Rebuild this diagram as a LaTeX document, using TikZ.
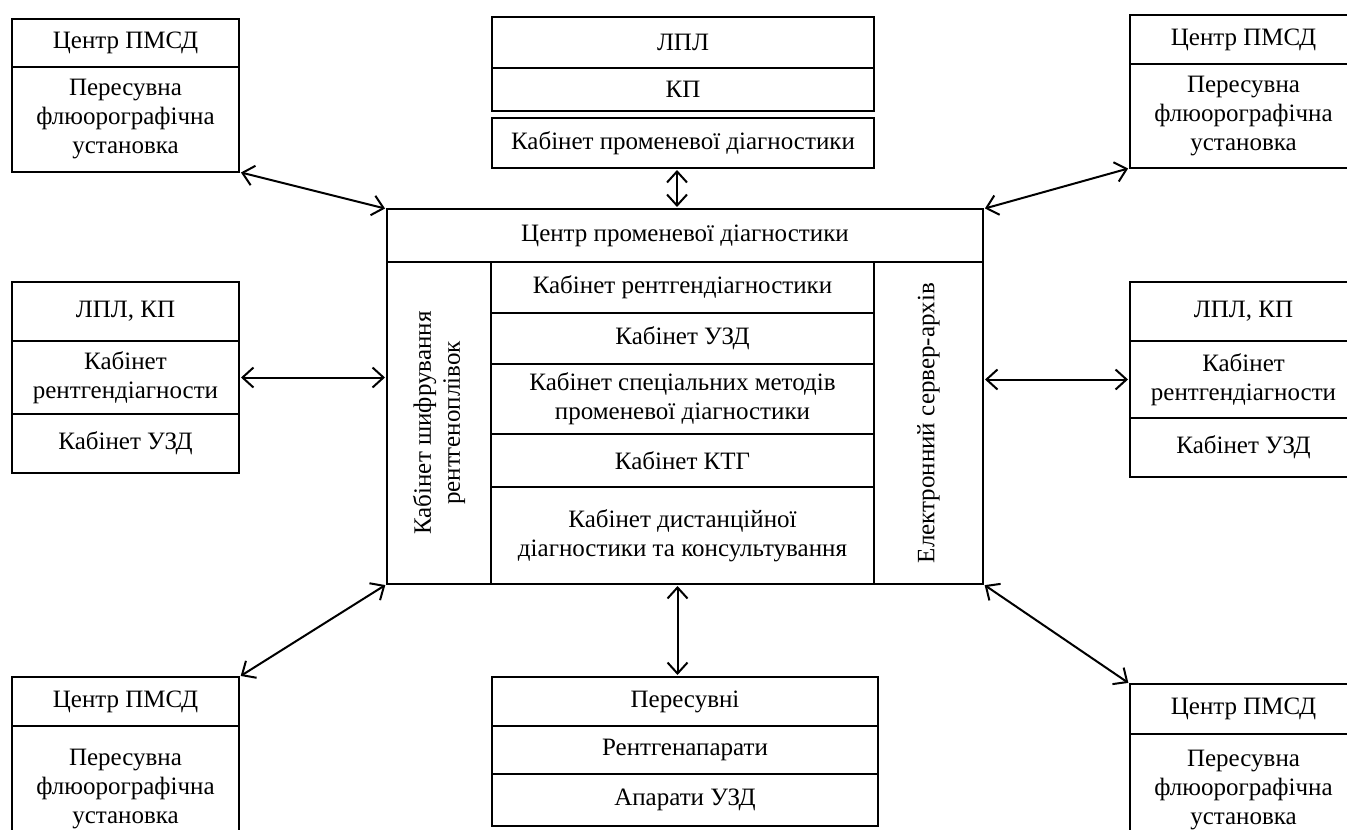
\documentclass[tikz,border=0pt]{standalone}
\usepackage{fontspec}
\setmainfont{Liberation Serif}
\usetikzlibrary{arrows.meta, positioning}
\tikzset{
  every picture/.style={line width=0.6pt},
  cell/.style={draw, align=center, inner sep=0pt, outer sep=0pt, minimum width=#1},
  cell/.default=113.5pt,
  link/.style={{Straight Barb[length=5.5pt,width=10pt]}-{Straight Barb[length=5.5pt,width=10pt]}, line width=1pt, shorten <=1pt, shorten >=1pt},
}

\begin{document}
\begin{tikzpicture}[x=0.5pt, y=-0.5pt, font=\fontsize{12.5}{14.5}\selectfont]
  \clip (0,0) rectangle (1347,829);
  % top row
  \node[cell, minimum height=24pt, anchor=north west] (tl1) at (12,19) {Центр ПМСД};
  \node[cell, minimum height=52.5pt, below=0pt of tl1] (tl2) {Пересувна\\флюорографічна\\установка};
  \node[cell=191pt, minimum height=25.5pt, anchor=north west] (lpl) at (492,17) {ЛПЛ};
  \node[cell=191pt, minimum height=21.5pt, below=0pt of lpl] (kp) {КП};
  \node[cell=191pt, minimum height=25pt, below=3.5pt of kp] (kpd) {Кабінет променевої діагностики};
  \node[cell, minimum height=24.5pt, anchor=north west] (tr1) at (1130,15) {Центр ПМСД};
  \node[cell, minimum height=52pt, below=0pt of tr1] (tr2) {Пересувна\\флюорографічна\\установка};
  % middle row
  \node[cell, minimum height=29.5pt, anchor=north west] (ml1) at (12,282) {ЛПЛ, КП};
  \node[cell, minimum height=36.5pt, below=0pt of ml1] (ml2) {Кабінет\\рентгендіагности};
  \node[cell, minimum height=29.5pt, below=0pt of ml2] (ml3) {Кабінет УЗД};
  \node[cell, minimum height=29.5pt, anchor=north west] (mr1) at (1130,282) {ЛПЛ, КП};
  \node[cell, minimum height=38.5pt, below=0pt of mr1] (mr2) {Кабінет\\рентгендіагности};
  \node[cell, minimum height=29.5pt, below=0pt of mr2] (mr3) {Кабінет УЗД};
  % centre
  \node[cell=298pt, minimum height=26.5pt, anchor=north west] (title) at (387,209) {Центр променевої діагностики};
  \node[cell=161pt, minimum height=52pt, rotate=90, anchor=north east] (lcol) at (title.south west) {Кабінет шифрування\\рентгеноплівок};
  \node[cell=161pt, minimum height=54.5pt, rotate=90, anchor=south east] (rcol) at (title.south east) {Електронний сервер-архів};
  \node[cell=191.5pt, minimum height=25.5pt, anchor=north west] (r1) at (lcol.south east) {Кабінет рентгендіагностики};
  \node[cell=191.5pt, minimum height=25.5pt, below=0pt of r1] (r2) {Кабінет УЗД};
  \node[cell=191.5pt, minimum height=35pt, below=0pt of r2] (r3) {Кабінет спеціальних методів\\променевої діагностики};
  \node[cell=191.5pt, minimum height=26.5pt, below=0pt of r3] (r4) {Кабінет КТГ};
  \node[cell=191.5pt, minimum height=48.5pt, below=0pt of r4] (r5) {Кабінет дистанційної\\діагностики та консультування};
  % bottom row
  \node[cell, minimum height=24.5pt, anchor=north west] (bl1) at (12,677) {Центр ПМСД};
  \node[cell, minimum height=63pt, below=0pt of bl1] (bl2) {Пересувна\\флюорографічна\\установка};
  \node[cell=193pt, minimum height=24.5pt, anchor=north west] (bc1) at (492,677) {Пересувні};
  \node[cell=193pt, minimum height=24pt, below=0pt of bc1] (bc2) {Рентгенапарати};
  \node[cell=193pt, minimum height=26pt, below=0pt of bc2] (bc3) {Апарати УЗД};
  \node[cell, minimum height=25pt, anchor=north west] (br1) at (1130,684) {Центр ПМСД};
  \node[cell, minimum height=56pt, below=0pt of br1] (br2) {Пересувна\\флюорографічна\\установка};
  % links
  \draw[link] (tl2.south east) -- (title.north west);
  \draw[link] ([xshift=-3pt]kpd.south) -- ([xshift=-3pt]kpd.south |- title.north);
  \draw[link] (tr2.south west) -- (title.north east);
  \draw[link] (ml2.east) -- (ml2.east -| title.west);
  \draw[link] (mr2.west) -- (mr2.west -| title.east);
  \draw[link] (bl1.north east) -- (lcol.north west);
  \draw[link] ([xshift=-2.5pt]r5.south) -- ([xshift=-2.5pt]r5.south |- bc1.north);
  \draw[link] (br1.north west) -- (rcol.south west);
\end{tikzpicture}
\end{document}
